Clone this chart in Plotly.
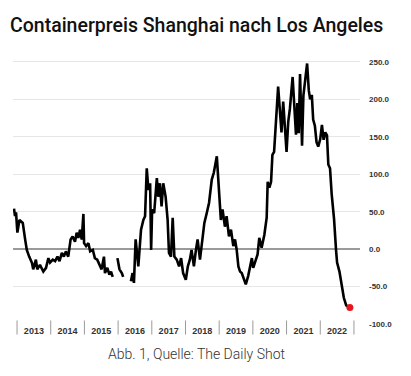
import plotly.graph_objects as go

# Fractional year positions and index values (None = gap in the series)
t = [2012.91, 2012.94, 2012.97, 2013.01, 2013.07, 2013.17, 2013.24, 2013.29, 2013.36, 2013.44,
     2013.48, 2013.56, 2013.60, 2013.68, 2013.78, 2013.86, 2013.93, 2013.98, 2014.06, 2014.13,
     2014.20, 2014.26, 2014.33, 2014.39, 2014.45, 2014.52, 2014.59, 2014.65, 2014.72, 2014.77,
     2014.82, 2014.87, 2014.92, 2014.97, 2014.99, 2015.05, 2015.12, 2015.17, 2015.25, 2015.31,
     2015.38, 2015.44, 2015.51, 2015.58, 2015.61, 2015.68, 2015.74, 2015.79, 2015.84,
     2015.90,
     2015.98, 2016.04, 2016.11, 2016.15,
     2016.25,
     2016.38, 2016.43, 2016.47, 2016.52, 2016.60, 2016.68, 2016.75, 2016.80, 2016.85, 2016.90,
     2016.95, 2016.98, 2017.01, 2017.07, 2017.15, 2017.19, 2017.24, 2017.29, 2017.34, 2017.41,
     2017.47, 2017.51, 2017.57, 2017.62, 2017.67, 2017.74, 2017.81, 2017.87, 2017.93, 2018.01,
     2018.07, 2018.13, 2018.18, 2018.25, 2018.31, 2018.36, 2018.43, 2018.50, 2018.56, 2018.63,
     2018.70, 2018.78, 2018.84, 2018.93, 2018.99, 2019.05, 2019.10, 2019.17, 2019.22, 2019.29,
     2019.35, 2019.42, 2019.47, 2019.52, 2019.57, 2019.62, 2019.67, 2019.72, 2019.79, 2019.86,
     2019.94, 2019.97, 2020.01, 2020.06, 2020.14, 2020.19, 2020.26, 2020.34, 2020.41, 2020.44,
     2020.49, 2020.54, 2020.58, 2020.63, 2020.66, 2020.71, 2020.75, 2020.80, 2020.85, 2020.90,
     2020.95, 2021.00, 2021.05, 2021.10, 2021.18, 2021.23, 2021.28, 2021.32, 2021.36, 2021.40,
     2021.46, 2021.50, 2021.56, 2021.61, 2021.66, 2021.70, 2021.75, 2021.79, 2021.84, 2021.89,
     2021.94, 2022.00, 2022.05, 2022.10, 2022.15, 2022.20, 2022.24, 2022.29, 2022.34, 2022.41,
     2022.47, 2022.50, 2022.57, 2022.64, 2022.70, 2022.77, 2022.88]

values = [54, 44, 49, 22, 39, 35, 13, -1, -10, -18,
          -27, -14, -27, -21, -30, -25, -12, -18, -14, -16,
          -10, -16, -5, -10, -3, -10, 13, 17, 10, 22,
          15, 26, 13, 47, 8, 4, 8, -3, -1, -12,
          -14, -21, -27, -10, -32, -25, -34, -30, -37,
          None,
          -12, -27, -32, -37,
          None,
          -43, -32, -45, 13, -23, 26, 39, 44, 108, 79,
          88, -1, 53, 48, 95, 70, 88, 57, 88, 70,
          39, -5, -10, 42, -10, -14, -23, -12, -32, -41,
          -23, -14, -1, -23, -1, 13, -14, 17, 35, 48,
          62, 93, 102, 124, 75, 39, 53, 30, 44, 17,
          26, 4, 13, -1, -23, -30, -32, -38, -47, -36,
          -18, -12, -25, -18, -7, 15, 2, 19, 42, 90,
          82, 90, 126, 130, 157, 188, 217, 182, 156, 197,
          157, 130, 170, 188, 230, 182, 153, 195, 155, 234,
          138, 205, 233, 248, 212, 200, 206, 173, 165, 143,
          137, 147, 166, 146, 156, 152, 113, 108, 73, 40,
          -2, -18, -30, -50, -65, -75, -78]

years = [2013, 2014, 2015, 2016, 2017, 2018, 2019, 2020, 2021, 2022]
separators = years + [2023]
y_ticks = [-100, -50, 0, 50, 100, 150, 200, 250]
title = "Containerpreis Shanghai nach Los Angeles"
caption = "Abb. 1, Quelle: The Daily Shot"

fig = go.Figure()
fig.add_trace(go.Scatter(x=t, y=values, mode="lines",
                         line=dict(color="black", width=2.6), connectgaps=False,
                         hoverinfo="skip", showlegend=False))
fig.add_trace(go.Scatter(x=[t[-1]], y=[values[-1]], mode="markers",
                         marker=dict(color="#e8151b", size=7), showlegend=False))

for s in separators:
    fig.add_shape(type="line", xref="x", yref="paper", x0=s, x1=s, y0=0.013, y1=-0.039,
                  line=dict(color="#9a9a9a", width=1))

W, H = 403, 368
fig.update_layout(
    width=W, height=H,
    margin=dict(l=5, r=51, t=45, b=51.5),
    paper_bgcolor="white", plot_bgcolor="white",
    title=dict(text=title, x=2 / W, xanchor="left", xref="container",
               y=1 - 17 / H, yanchor="middle", yref="container",
               font=dict(family="Roboto", size=19.5, color="#111", weight=500)),
    xaxis=dict(range=[2012.88, 2023.18], tickvals=[y + 0.5 for y in years],
               ticktext=[str(y) for y in years], ticks="", showgrid=False,
               zeroline=False, showline=False,
               tickfont=dict(family="Liberation Sans", size=9, color="#333", weight="bold")),
    yaxis=dict(range=[-100, 262], side="right", tickvals=y_ticks,
               ticktext=[f"{v:.1f}" for v in y_ticks], showgrid=True,
               gridcolor="#e6e6e6", gridwidth=1, zeroline=True, zerolinecolor="#9a9a9a",
               zerolinewidth=1.5, ticks="", ticklabelstandoff=8,
               tickfont=dict(family="Liberation Sans", size=8, color="#333", weight="bold")),
    annotations=[dict(text=caption, xref="paper", yref="paper", x=0.530, y=-0.109,
                      xanchor="center", yanchor="middle", showarrow=False,
                      font=dict(family="Roboto", size=14, color="#333", weight=300))],
)

fig.write_html("out.html")
